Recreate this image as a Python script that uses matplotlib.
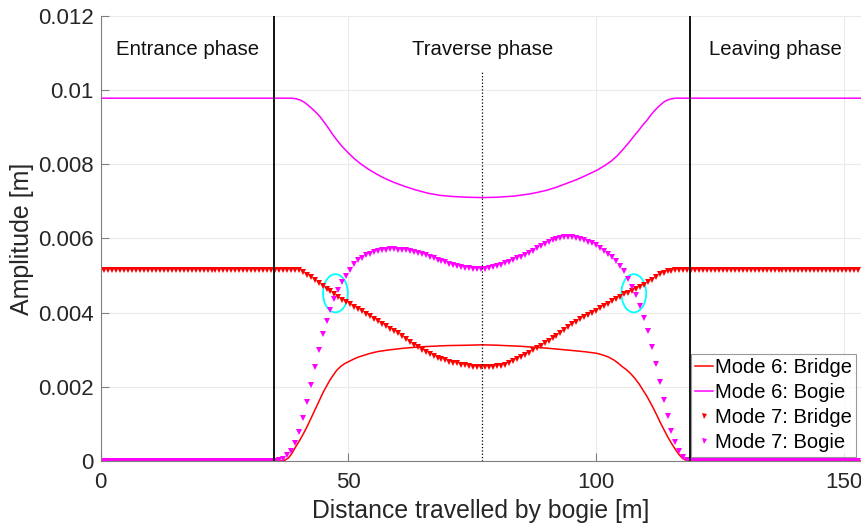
#Amplitude of modes 6 and 7 while the bogie crosses the bridge
import matplotlib
matplotlib.use('Agg')
import matplotlib.pyplot as plt
import numpy as np
from matplotlib.patches import Ellipse

plt.rcParams['font.family'] = ['Liberation Sans', 'DejaVu Sans']

#mode 6 (solid lines), values in 1e-3 m
dist6 = [0, 36.5, 37.2, 37.9, 38.6, 39.6, 40.3, 41, 41.7, 42.3, 43, 43.7, 44.4, 45, 45.7, 46.3,
         47, 47.7, 48.4, 49.2, 50.1, 51, 52, 53.2, 54.4, 56, 58, 61.2, 65, 70, 74, 77, 80, 85,
         90.1, 95, 98, 100.2, 101.5, 102.5, 103.6, 104.5, 105.3, 106.2, 107, 107.8, 108.7,
         109.5, 110.3, 111, 111.7, 112.4, 113, 113.7, 114.4, 115, 115.7, 116.3, 116.8, 117.3,
         117.8, 118.3, 118.8, 153.4]
bridge6 = [0, 0, 0.02, 0.08, 0.2, 0.43, 0.58, 0.75, 0.93, 1.1, 1.3, 1.5, 1.7, 1.87, 2.04, 2.18,
           2.32, 2.45, 2.54, 2.62, 2.68, 2.74, 2.8, 2.85, 2.9, 2.95, 2.99, 3.04, 3.08, 3.11, 3.12, 3.13, 3.12, 3.09,
           3.04, 2.98, 2.94, 2.90, 2.85, 2.80, 2.72, 2.63, 2.54, 2.45, 2.35, 2.23, 2.07,
           1.90, 1.73, 1.56, 1.38, 1.19, 1.02, 0.84, 0.66, 0.52, 0.37, 0.25, 0.16, 0.09,
           0.04, 0.01, 0, 0]
dist6b = [0, 38, 39, 39.6, 40.3, 41, 41.8, 42.5, 43.3, 44.3, 45.2, 46, 46.8, 47.7, 48.8, 50.1,
          51.2, 52.5, 54, 55.5, 57, 59, 61.2, 63.5, 66, 68.5, 71, 74, 77, 80, 83.4, 86.7, 88.5,
          90.1, 92, 94, 96, 98, 100.2, 101.8, 103, 104.2, 105.3, 106.2, 107, 108, 108.7, 109.5,
          110.3, 111, 111.7, 112.4, 113, 113.6, 114.2, 115.1, 116, 153.4]
bogie6 = [9.78, 9.78, 9.775, 9.76, 9.73, 9.68, 9.60, 9.52, 9.42, 9.28, 9.12, 8.97, 8.81, 8.65, 8.47, 8.29,
          8.15, 8.01, 7.87, 7.75, 7.64, 7.52, 7.41, 7.31, 7.22, 7.16, 7.13, 7.11, 7.10, 7.11, 7.14, 7.20, 7.25,
          7.30, 7.38, 7.48, 7.58, 7.70, 7.84, 7.97, 8.08, 8.22, 8.38, 8.52, 8.65, 8.82, 8.93, 9.07,
          9.19, 9.32, 9.43, 9.53, 9.60, 9.67, 9.72, 9.76, 9.78, 9.78]

#mode 7 (markers), one value every 0.8 m, values in 1e-3 m
dist7 = np.arange(0, 153.2, 0.8)
bogie7 = [0] * 43 + [
    0, 0, 0.02, 0.06, 0.17, 0.28, 0.48, 0.78, 1.15, 1.59,
    2.06, 2.54, 3.00, 3.42, 3.76, 4.08, 4.37, 4.62, 4.82, 4.99,
    5.15, 5.30, 5.41, 5.48, 5.54, 5.59, 5.63, 5.66, 5.68, 5.70,
    5.71, 5.71, 5.70, 5.69, 5.68, 5.65, 5.62, 5.60, 5.57, 5.54,
    5.50, 5.47, 5.43, 5.39, 5.36, 5.32, 5.28, 5.25, 5.23, 5.21,
    5.19, 5.18, 5.18, 5.18, 5.18, 5.20, 5.23, 5.26, 5.29, 5.33,
    5.37, 5.41, 5.46, 5.51, 5.56, 5.61, 5.67, 5.73, 5.79, 5.85,
    5.90, 5.95, 5.99, 6.02, 6.04, 6.05, 6.05, 6.02, 5.98, 5.95,
    5.91, 5.87, 5.82, 5.75, 5.67, 5.59, 5.49, 5.38, 5.26, 5.11,
    4.90, 4.70, 4.47, 4.19, 3.86, 3.49, 3.07, 2.61, 2.13, 1.65,
    1.21, 0.82, 0.50, 0.26, 0.10, 0.02, 0] + [0] * 42
bridge7 = [5.15] * 49 + [
    5.15, 5.14, 5.10, 5.02, 4.95, 4.88, 4.80, 4.72, 4.64, 4.57,
    4.49, 4.42, 4.35, 4.28, 4.22, 4.16, 4.10, 4.04, 3.97, 3.91,
    3.84, 3.77, 3.70, 3.64, 3.57, 3.51, 3.44, 3.37, 3.29, 3.21,
    3.13, 3.06, 2.99, 2.93, 2.88, 2.83, 2.78, 2.75, 2.71, 2.68,
    2.65, 2.63, 2.60, 2.58, 2.56, 2.54, 2.53, 2.52, 2.52, 2.53,
    2.54, 2.55, 2.57, 2.60, 2.64, 2.69, 2.74, 2.80, 2.86, 2.92,
    2.98, 3.04, 3.10, 3.17, 3.24, 3.31, 3.38, 3.46, 3.54, 3.61,
    3.68, 3.75, 3.82, 3.88, 3.94, 4.00, 4.05, 4.11, 4.17, 4.24,
    4.30, 4.37, 4.43, 4.49, 4.54, 4.59, 4.64, 4.69, 4.75, 4.82,
    4.89, 4.96, 5.03, 5.08, 5.11, 5.13, 5.14, 5.15] + [5.15] * 45

#phases: bridge entry, mid span, bridge exit
x_entry = 35
x_mid = 77
x_exit = 119
fases = ['Entrance phase', 'Traverse phase', 'Leaving phase']
fase_x = [17.5, 77, 136.2]

#crossings of the mode 7 curves
cruce_x = [47.4, 107.6]
cruce_y = [4.52, 4.52]

yticks = [0, 0.002, 0.004, 0.006, 0.008, 0.01, 0.012]
ytick_labels = ['0', '0.002', '0.004', '0.006', '0.008', '0.01', '0.012']

fig = plt.figure(figsize=(8.62, 5.28), dpi=100)
ax = fig.add_axes([0.1166, 0.127, 0.882, 0.843])

e = 1e-3
ax.plot(dist6, np.array(bridge6) * e, color='red', lw=1.1, label='Mode 6: Bridge')
ax.plot(dist6b, np.array(bogie6) * e, color='magenta', lw=1.1, label='Mode 6: Bogie')
ax.plot(dist7, np.array(bridge7) * e, 'v', color='red', ms=4.5, mew=0, label='Mode 7: Bridge')
ax.plot(dist7, np.array(bogie7) * e, 'v', color='magenta', ms=4.5, mew=0, label='Mode 7: Bogie')

ax.axvline(x_entry, color='black', lw=1.3)
ax.axvline(x_exit, color='black', lw=1.3)
ax.plot([x_mid, x_mid], [0, 0.0105], color='black', lw=0.9, linestyle=':')

for fx, ft in zip(fase_x, fases):
    ax.text(fx, 0.0111, ft, ha='center', va='center', fontsize=14.7, color='#111111')

for cx, cy in zip(cruce_x, cruce_y):
    ax.add_patch(Ellipse((cx, cy * e), 5.0, 1.03e-3, fill=False, edgecolor='cyan', lw=1.3))

ax.set_xlim(0, 153.4)
ax.set_ylim(0, 0.012)
ax.set_xticks([0, 50, 100, 150])
ax.set_yticks(yticks)
ax.set_yticklabels(ytick_labels)
ax.tick_params(direction='in', length=6, color='#808080', labelsize=16, labelcolor='#262626')
ax.tick_params(axis='x', pad=8)
ax.tick_params(axis='y', pad=5)
ax.grid(True, color='#ebebeb', lw=0.8)
ax.set_axisbelow(True)
for s in ['top', 'right']:
    ax.spines[s].set_visible(False)
for s in ['left', 'bottom']:
    ax.spines[s].set_color('#808080')
ax.set_xlabel('Distance travelled by bogie [m]', fontsize=17.8, color='#262626', labelpad=4)
ax.set_ylabel('Amplitude [m]', fontsize=18, color='#262626', labelpad=3)

leg = ax.legend(loc='lower right', fontsize=14.5, frameon=True, fancybox=False,
                edgecolor='#808080', handlelength=0.9, handletextpad=0.1,
                borderpad=0.2, labelspacing=0.3, borderaxespad=0.22, markerscale=0.8)
leg.get_frame().set_linewidth(0.8)

fig.savefig('out.png', dpi=100)
